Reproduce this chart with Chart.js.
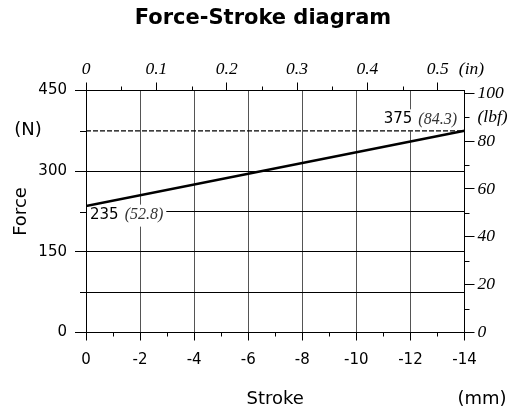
<!DOCTYPE html>
<html>
<head>
<meta charset="utf-8">
<script src="https://cdn.jsdelivr.net/npm/chart.js@4.4.1/dist/chart.umd.min.js"></script>
<style>
    html, body { margin: 0; padding: 0; background: #fff; }
    canvas { display: block; }
</style>
</head>
<body>
<canvas id="chart" width="526" height="412"></canvas>
<script>
// Stroke (mm) and force (N) at both ends of the travel
const strokeMm = [0, -14];
const forceN = [235, 375];
const forceLbf = ['52.8', '84.3'];

// dashed reference level
const refForceN = 375;

// axis ranges
const strokeRange = [-14, 0];
const forceRange = [0, 450];
const inchMax = 0.538;
const lbfMax = 450 / 4.44822;

const sansFont = "'DejaVu Sans', Verdana, sans-serif";
const serifFont = "'Liberation Serif', 'Times New Roman', serif";
const clear = 'rgba(0,0,0,0)';

// short ticks between the labelled ones
const minorTicks = {
    x: { step: 1, len: 4 },
    y: { step: 75, len: 6 },
    xIn: { step: 0.05, len: 4 },
    yLbf: { step: 10, len: 5 }
};

/**
 * Draw the minor ticks of every axis.
 */
const minorTickPlugin = {
    id: 'minorTicks',
    beforeDatasetsDraw(chart) {
        const ctx = chart.ctx;
        ctx.save();
        ctx.strokeStyle = '#000';
        ctx.lineWidth = 1;
        ctx.beginPath();
        Object.keys(minorTicks).forEach(id => {
            const scale = chart.scales[id];
            const spec = minorTicks[id];
            const n = Math.round((scale.max - scale.min) / spec.step);
            for (let i = 1; i <= n; i += 2) {
                const v = scale.min + i * spec.step;
                if (v > scale.max + 1e-9) break;
                const p = Math.round(scale.getPixelForValue(v)) + 0.5;
                const pos = scale.options.position;
                if (pos === 'bottom') {
                    ctx.moveTo(p, scale.top);
                    ctx.lineTo(p, scale.top + spec.len);
                } else if (pos === 'top') {
                    ctx.moveTo(p, scale.bottom);
                    ctx.lineTo(p, scale.bottom - spec.len);
                } else if (pos === 'left') {
                    ctx.moveTo(scale.right, p);
                    ctx.lineTo(scale.right - spec.len, p);
                } else {
                    ctx.moveTo(scale.left, p);
                    ctx.lineTo(scale.left + spec.len, p);
                }
            }
        });
        ctx.stroke();
        ctx.restore();
    }
};

/**
 * Value labels at both ends of the force line.
 */
const endLabelPlugin = {
    id: 'endLabels',
    beforeDatasetsDraw(chart) {
        const { ctx, scales: { x, y } } = chart;
        ctx.save();
        ctx.textBaseline = 'middle';
        forceN.forEach((f, i) => {
            const px = x.getPixelForValue(strokeMm[i]);
            const py = y.getPixelForValue(f);
            const main = String(f);
            const sub = '(' + forceLbf[i] + ')';
            ctx.font = '15px ' + sansFont;
            const w1 = ctx.measureText(main).width;
            ctx.font = 'italic 16px ' + serifFont;
            const w2 = ctx.measureText(sub).width;
            const gap = 6;
            const total = w1 + gap + w2;
            const first = i === 0;
            const left = first ? px + 4 : px - 7.5 - total;
            const cy = first ? py + 8.5 : py - 11.5;

            ctx.fillStyle = '#fff';
            ctx.fillRect(left - 3, cy - 10, total + 6, 22);

            ctx.fillStyle = '#000';
            ctx.textAlign = 'left';
            ctx.font = '15px ' + sansFont;
            ctx.fillText(main, left, cy);
            ctx.fillStyle = '#333';
            ctx.font = 'italic 16px ' + serifFont;
            ctx.fillText(sub, left + w1 + gap, cy);
        });
        ctx.restore();
    }
};

/**
 * Unit labels that sit beside the axes.
 */
const unitPlugin = {
    id: 'units',
    afterDraw(chart) {
        const { ctx, chartArea, scales } = chart;
        ctx.save();
        ctx.fillStyle = '#000';
        ctx.textAlign = 'center';
        ctx.textBaseline = 'middle';
        ctx.font = '18px ' + sansFont;
        ctx.fillText('(N)', chartArea.left - 58, scales.y.getPixelForValue(refForceN) - 1);
        ctx.fillText('(mm)', chartArea.right + 17.5, scales.x.bottom - 13);
        ctx.font = 'italic 17.5px ' + serifFont;
        ctx.fillText('(in)', chartArea.right + 7, scales.xIn.bottom - 21.5);
        ctx.restore();
    }
};

new Chart(document.getElementById('chart'), {
    type: 'line',
    data: {
        datasets: [{
            label: 'Force',
            data: strokeMm.map((s, i) => ({ x: s, y: forceN[i] })),
            borderColor: '#000',
            borderWidth: 2.5,
            pointRadius: 0,
            fill: false,
            xAxisID: 'x',
            yAxisID: 'y'
        }, {
            label: 'Reference',
            data: strokeMm.map(s => ({ x: s, y: refForceN })),
            borderColor: '#000',
            borderWidth: 1.4,
            borderDash: [5, 2],
            pointRadius: 0,
            fill: false,
            xAxisID: 'x',
            yAxisID: 'y'
        }]
    },
    options: {
        responsive: false,
        animation: false,
        layout: { padding: 0 },
        plugins: {
            legend: { display: false },
            tooltip: { enabled: false },
            title: {
                display: true,
                text: 'Force-Stroke diagram',
                color: '#000',
                font: { family: sansFont, size: 21, weight: 'bold' },
                padding: { top: 6, bottom: 0 }
            }
        },
        scales: {
            x: {
                type: 'linear',
                position: 'bottom',
                min: strokeRange[0],
                max: strokeRange[1],
                reverse: true,
                afterFit: s => { s.height = 79.5; },
                ticks: {
                    stepSize: 1,
                    includeBounds: false,
                    autoSkip: false,
                    maxRotation: 0,
                    padding: 11,
                    color: '#000',
                    font: { family: sansFont, size: 15 },
                    callback: v => (v % 2 === 0 ? String(v) : '')
                },
                grid: {
                    color: c => (c.tick && c.tick.value % 2 === 0 ? '#555' : clear),
                    tickColor: c => (c.tick && c.tick.value % 2 === 0 ? '#000' : clear),
                    tickLength: 8
                },
                border: { color: '#000' },
                title: {
                    display: true,
                    text: 'Stroke',
                    color: '#000',
                    font: { family: sansFont, size: 18 },
                    padding: { top: 0, bottom: 2 }
                }
            },
            y: {
                type: 'linear',
                position: 'left',
                min: forceRange[0],
                max: forceRange[1],
                afterFit: s => { s.width = 86; },
                ticks: {
                    stepSize: 75,
                    padding: 8,
                    color: '#000',
                    font: { family: sansFont, size: 15 },
                    callback: v => (v % 150 === 0 ? String(v) : '')
                },
                grid: {
                    color: c => (c.tick && c.tick.value === refForceN ? clear : '#000'),
                    tickColor: c => (c.tick && c.tick.value % 150 === 0 ? '#000' : clear),
                    tickLength: 11
                },
                border: { color: '#000' },
                title: {
                    display: true,
                    text: 'Force',
                    color: '#000',
                    font: { family: sansFont, size: 18 },
                    padding: { top: 11, bottom: 0 }
                }
            },
            xIn: {
                type: 'linear',
                position: 'top',
                min: 0,
                max: inchMax,
                afterFit: s => { s.height = 59.3; },
                ticks: {
                    stepSize: 0.1,
                    includeBounds: false,
                    autoSkip: false,
                    maxRotation: 0,
                    padding: 3,
                    color: '#000',
                    font: { family: serifFont, size: 17.5, style: 'italic' },
                    callback: v => (v === 0 ? '0' : v.toFixed(1))
                },
                grid: { drawOnChartArea: false, color: '#000', tickLength: 8 },
                border: { color: '#000' }
            },
            yLbf: {
                type: 'linear',
                position: 'right',
                min: 0,
                max: lbfMax,
                afterFit: s => { s.width = 61.5; },
                ticks: {
                    stepSize: 10,
                    includeBounds: false,
                    padding: 3,
                    color: '#000',
                    font: { family: serifFont, size: 17.5, style: 'italic' },
                    callback: v => (v % 20 === 0 ? String(v) : (v === 90 ? '(lbf)' : ''))
                },
                grid: {
                    drawOnChartArea: false,
                    tickColor: c => (c.tick && c.tick.value % 20 === 0 ? '#000' : clear),
                    tickLength: 10
                },
                border: { color: '#000' }
            }
        }
    },
    plugins: [minorTickPlugin, endLabelPlugin, unitPlugin]
});
</script>
</body>
</html>
